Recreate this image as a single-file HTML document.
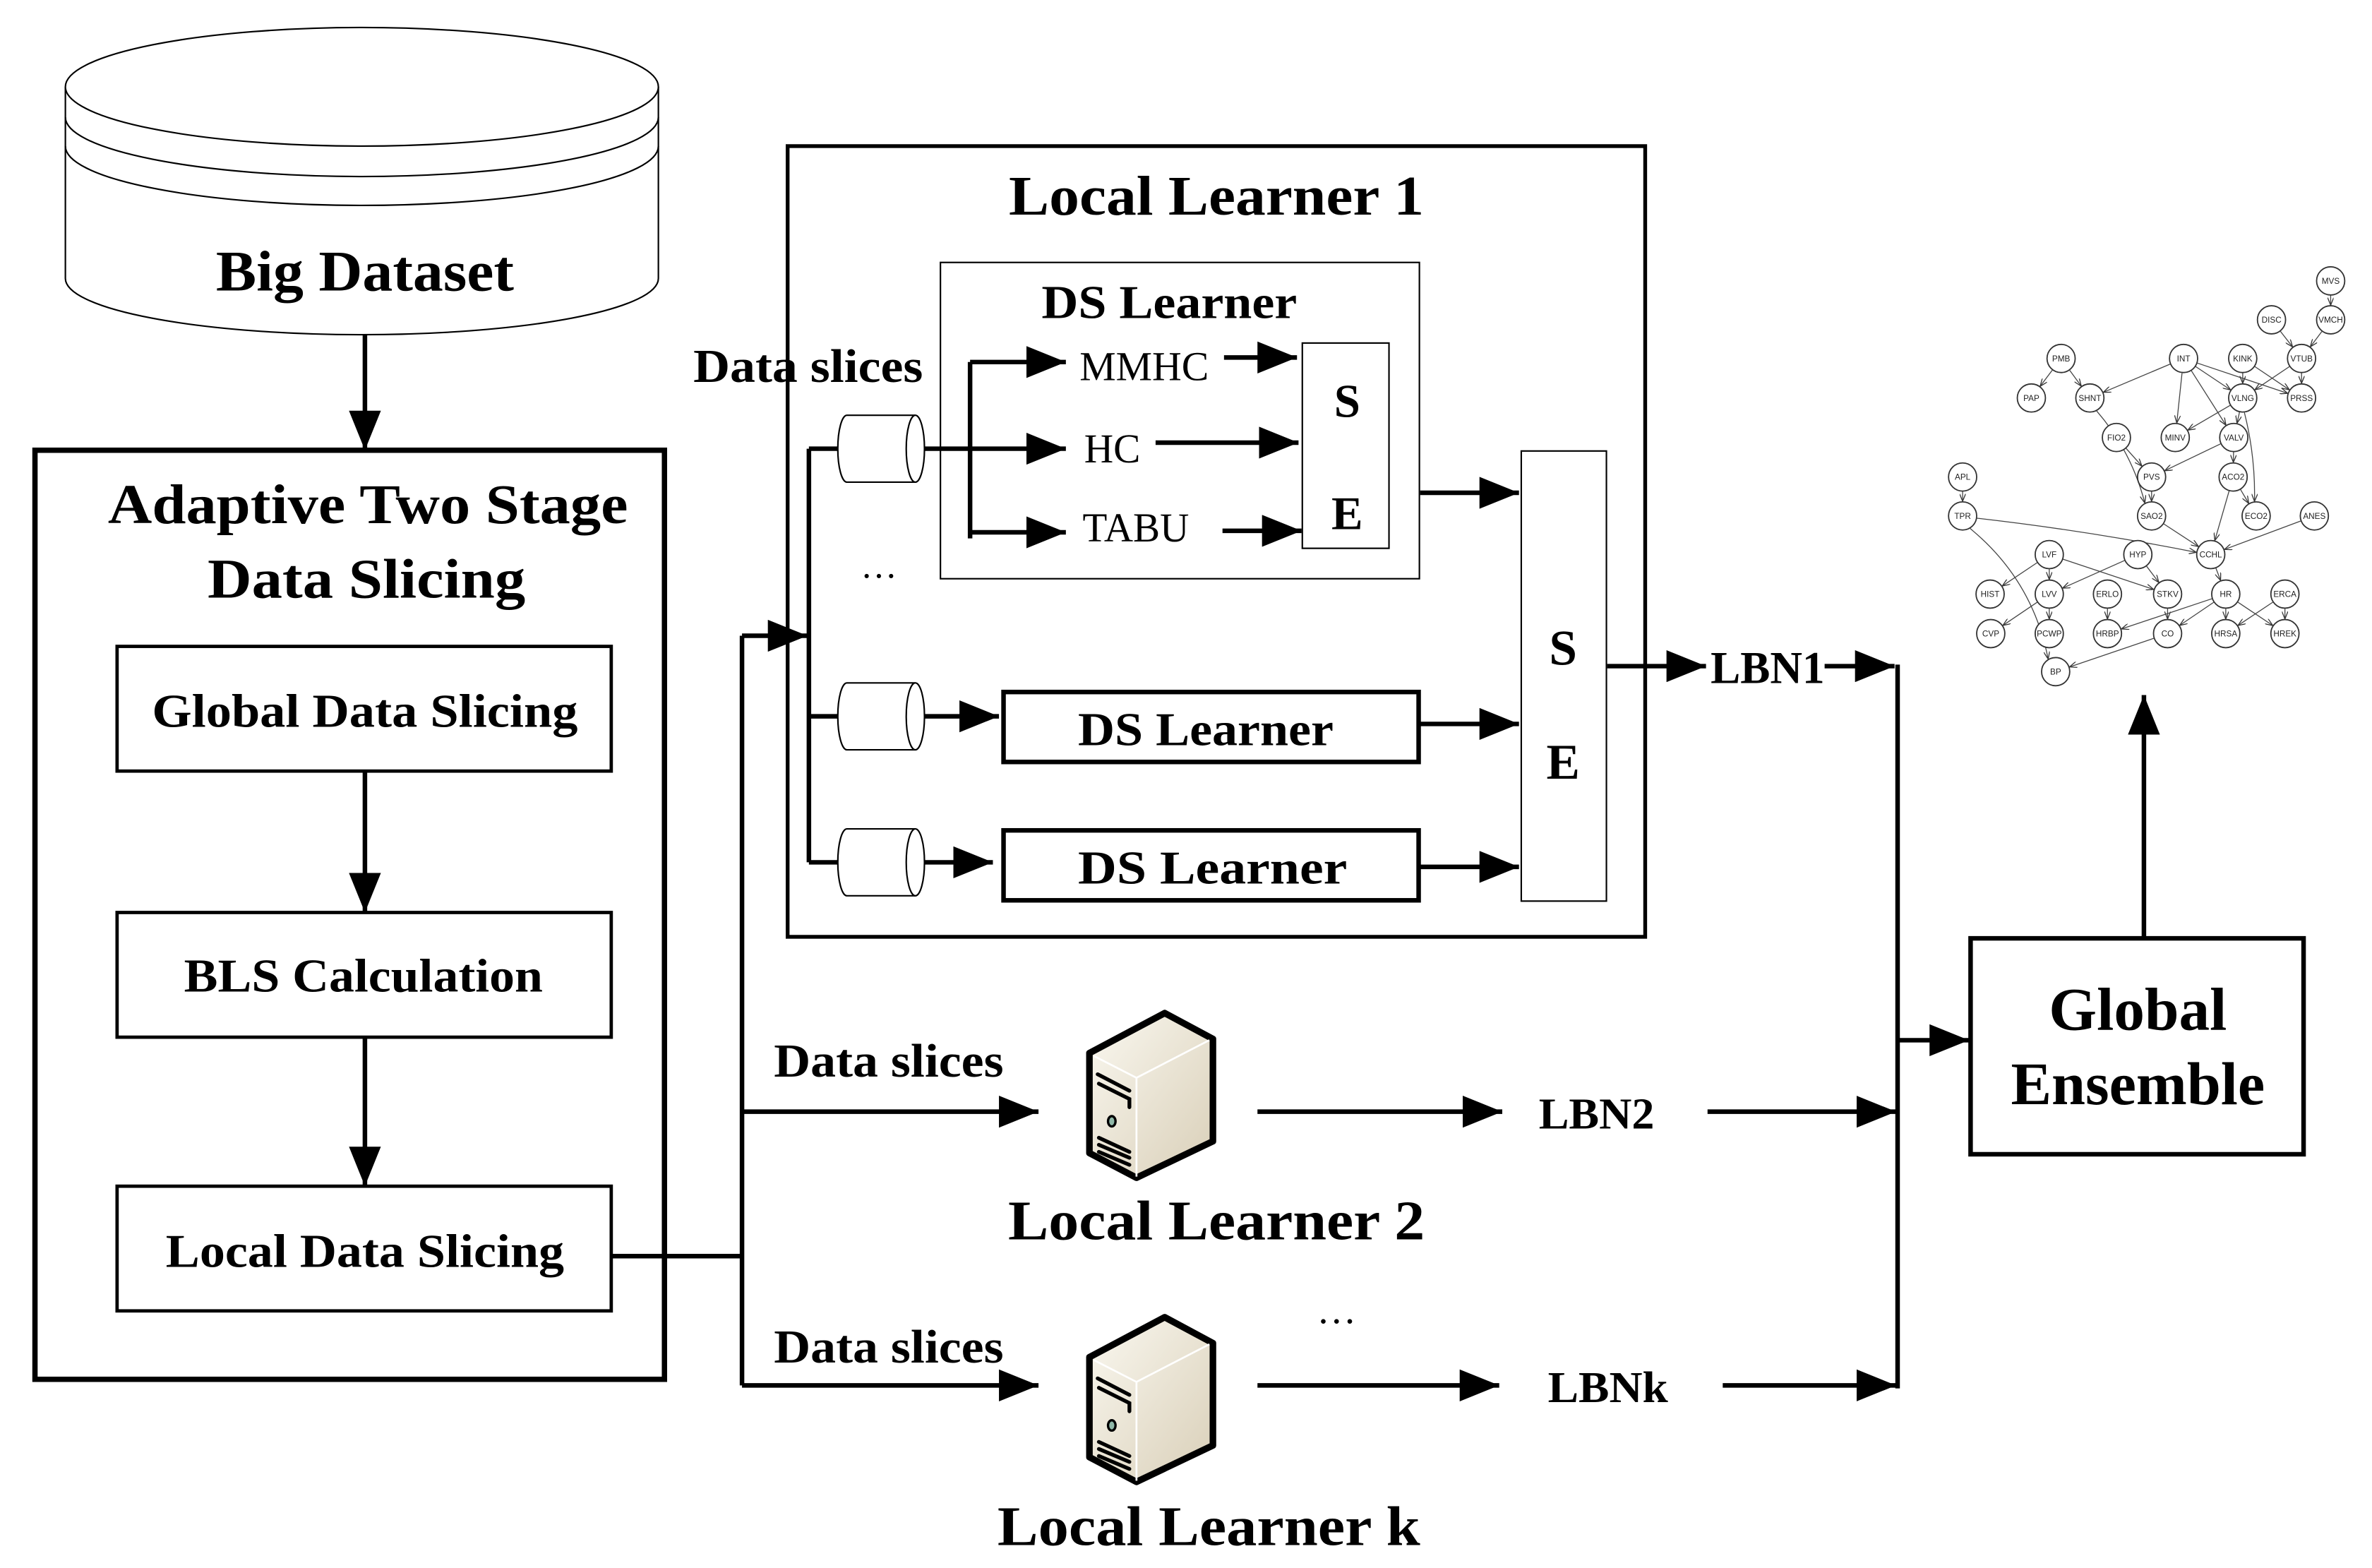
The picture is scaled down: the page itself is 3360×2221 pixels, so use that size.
<!DOCTYPE html>
<html><head><meta charset="utf-8"><style>
html,body{margin:0;padding:0;background:#fff;}
svg{display:block;}
.t{font-family:"Liberation Serif",serif;font-weight:bold;fill:#000;}
.r{font-family:"Liberation Serif",serif;fill:#000;}
.n text{font-family:"Liberation Sans",sans-serif;font-size:26px;text-anchor:middle;fill:#222;}
.n circle{fill:#fff;stroke:#333;stroke-width:4;}
</style></head><body>
<svg width="3360" height="2221" viewBox="0 0 1560 1031" xmlns="http://www.w3.org/2000/svg">
<defs>
<marker id="a" markerUnits="userSpaceOnUse" markerWidth="26" markerHeight="21" refX="26" refY="10.5" orient="auto"><path d="M0,0 L26,10.5 L0,21 z" fill="#000"/></marker>
<marker id="s" markerUnits="userSpaceOnUse" markerWidth="5" markerHeight="4" refX="5" refY="2" orient="auto"><path d="M0,0 L5,2 L0,4" fill="none" stroke="#333" stroke-width="0.6"/></marker>
</defs>
<rect width="1560" height="1031" fill="#fff"/>

<!-- Big dataset cylinder -->
<g fill="none" stroke="#000" stroke-width="1">
<path d="M43,57 V183 A195,37 0 0 0 433,183 V57"/>
<ellipse cx="238" cy="57" rx="195" ry="39" fill="#fff"/>
<path d="M43,77 A195,39 0 0 0 433,77"/>
<path d="M43,96 A195,39 0 0 0 433,96"/>
</g>
<text class="t" x="240" y="191" font-size="38" text-anchor="middle" textLength="196" lengthAdjust="spacingAndGlyphs">Big Dataset</text>

<!-- Left box -->
<rect x="23" y="296" width="414" height="611" fill="none" stroke="#000" stroke-width="3.5"/>
<text class="t" x="242" y="344" font-size="37" text-anchor="middle" textLength="342" lengthAdjust="spacingAndGlyphs">Adaptive Two Stage</text>
<text class="t" x="241" y="393" font-size="37" text-anchor="middle" textLength="209" lengthAdjust="spacingAndGlyphs">Data Slicing</text>
<g fill="none" stroke="#000" stroke-width="2.2">
<rect x="77" y="425" width="325" height="82"/>
<rect x="77" y="600" width="325" height="82"/>
<rect x="77" y="780" width="325" height="82"/>
</g>
<text class="t" x="240" y="478" font-size="31" text-anchor="middle" textLength="280" lengthAdjust="spacingAndGlyphs">Global Data Slicing</text>
<text class="t" x="239" y="652" font-size="31" text-anchor="middle" textLength="236" lengthAdjust="spacingAndGlyphs">BLS Calculation</text>
<text class="t" x="240" y="833" font-size="31" text-anchor="middle" textLength="262" lengthAdjust="spacingAndGlyphs">Local Data Slicing</text>

<!-- Local learner 1 -->
<rect x="518" y="96" width="564" height="520" fill="none" stroke="#000" stroke-width="2.5"/>
<text class="t" x="800" y="141" font-size="37" text-anchor="middle" textLength="273" lengthAdjust="spacingAndGlyphs">Local Learner 1</text>
<rect x="618.5" y="172.5" width="315" height="208" fill="none" stroke="#000" stroke-width="1"/>
<text class="t" x="769" y="209" font-size="31" text-anchor="middle" textLength="168" lengthAdjust="spacingAndGlyphs">DS Learner</text>
<rect x="856.5" y="225.5" width="57" height="135" fill="none" stroke="#000" stroke-width="1"/>
<text class="t" x="886" y="274" font-size="31" text-anchor="middle">S</text>
<text class="t" x="886" y="348" font-size="31" text-anchor="middle">E</text>
<text class="r" x="710" y="250" font-size="27" textLength="85" lengthAdjust="spacingAndGlyphs">MMHC</text>
<text class="r" x="713" y="304" font-size="27" textLength="37" lengthAdjust="spacingAndGlyphs">HC</text>
<text class="r" x="712" y="356" font-size="27" textLength="70" lengthAdjust="spacingAndGlyphs">TABU</text>
<text class="t" x="456" y="251" font-size="31" textLength="151" lengthAdjust="spacingAndGlyphs">Data slices</text>
<text class="r" x="578" y="380" font-size="24" text-anchor="middle">…</text>

<rect x="1000.5" y="296.5" width="56" height="296" fill="none" stroke="#000" stroke-width="1"/>
<text class="t" x="1028" y="437" font-size="33" text-anchor="middle">S</text>
<text class="t" x="1028" y="512" font-size="33" text-anchor="middle">E</text>

<rect x="660" y="455" width="273" height="46" fill="none" stroke="#000" stroke-width="3"/>
<rect x="660" y="546" width="273" height="46" fill="none" stroke="#000" stroke-width="3"/>
<text class="t" x="709" y="490" font-size="31" textLength="168" lengthAdjust="spacingAndGlyphs">DS Learner</text>
<text class="t" x="709" y="581" font-size="31" textLength="177" lengthAdjust="spacingAndGlyphs">DS  Learner</text>

<!-- small cylinders -->
<g fill="#fff" stroke="#000" stroke-width="1">
<path d="M557,273 H602 M557,317 H602 M557,273 A6,22 0 0 0 557,317"/>
<ellipse cx="602" cy="295" rx="6" ry="22"/>
<path d="M557,449 H602 M557,493 H602 M557,449 A6,22 0 0 0 557,493"/>
<ellipse cx="602" cy="471" rx="6" ry="22"/>
<path d="M557,545 H602 M557,589 H602 M557,545 A6,22 0 0 0 557,589"/>
<ellipse cx="602" cy="567" rx="6" ry="22"/>
</g>

<!-- connectors -->
<g fill="none" stroke="#000" stroke-width="3">
<path d="M240,220 V296" marker-end="url(#a)"/>
<path d="M240,507 V600" marker-end="url(#a)"/>
<path d="M240,682 V780" marker-end="url(#a)"/>
<path d="M402,826 H488 M488,418 V911"/>
<path d="M488,418 H531" marker-end="url(#a)"/>
<path d="M488,731 H683" marker-end="url(#a)"/>
<path d="M488,911 H683" marker-end="url(#a)"/>
<path d="M532,295 V567 M532,295 H551 M532,471 H551 M532,567 H551"/>
<path d="M608,295 H701" marker-end="url(#a)"/>
<path d="M608,471 H657" marker-end="url(#a)"/>
<path d="M608,567 H653" marker-end="url(#a)"/>
<path d="M638,238 V354"/>
<path d="M638,238 H701" marker-end="url(#a)"/>
<path d="M638,350 H701" marker-end="url(#a)"/>
<path d="M805,235 H853" marker-end="url(#a)"/>
<path d="M760,291 H854" marker-end="url(#a)"/>
<path d="M804,349 H856" marker-end="url(#a)"/>
<path d="M934,324 H999" marker-end="url(#a)"/>
<path d="M933,476 H999" marker-end="url(#a)"/>
<path d="M933,570 H999" marker-end="url(#a)"/>
<path d="M1057,438 H1122" marker-end="url(#a)"/>
<path d="M1200,438 H1246" marker-end="url(#a)"/>
<path d="M1248,437 V913"/>
<path d="M1248,684 H1295" marker-end="url(#a)"/>
<path d="M1123,731 H1247" marker-end="url(#a)"/>
<path d="M1133,911 H1247" marker-end="url(#a)"/>
<path d="M827,731 H988" marker-end="url(#a)"/>
<path d="M827,911 H986" marker-end="url(#a)"/>
<path d="M1410,617 V457" marker-end="url(#a)"/>
</g>
<text class="t" x="1125" y="449" font-size="30" textLength="75" lengthAdjust="spacingAndGlyphs">LBN1</text>

<!-- Global Ensemble -->
<rect x="1296" y="617" width="219" height="142" fill="#fff" stroke="#000" stroke-width="3"/>
<text class="t" x="1406" y="677" font-size="40" text-anchor="middle" textLength="117" lengthAdjust="spacingAndGlyphs">Global</text>
<text class="t" x="1406" y="726" font-size="40" text-anchor="middle" textLength="167" lengthAdjust="spacingAndGlyphs">Ensemble</text>

<!-- rows 2 & k -->
<text class="t" x="509" y="708" font-size="31" textLength="151" lengthAdjust="spacingAndGlyphs">Data slices</text>
<text class="t" x="509" y="896" font-size="31" textLength="151" lengthAdjust="spacingAndGlyphs">Data slices</text>
<text class="t" x="663" y="815" font-size="37" textLength="274" lengthAdjust="spacingAndGlyphs">Local Learner 2</text>
<text class="t" x="656" y="1016" font-size="37" textLength="278" lengthAdjust="spacingAndGlyphs">Local Learner k</text>
<text class="t" x="1012" y="742" font-size="29" textLength="76" lengthAdjust="spacingAndGlyphs">LBN2</text>
<text class="t" x="1018" y="922" font-size="29" textLength="79" lengthAdjust="spacingAndGlyphs">LBNk</text>
<text class="r" x="879" y="870" font-size="26" text-anchor="middle">…</text>

<!-- servers -->
<g id="srv">
<g transform="translate(710.3,659.2) scale(0.1547)">
<defs><linearGradient id="g1" x1="0" y1="0" x2="1" y2="1"><stop offset="0" stop-color="#faf8f0"/><stop offset="1" stop-color="#d9cfb8"/></linearGradient></defs>
<path d="M40,215 L360,45 L565,155 L565,590 L240,745 L40,640 Z" fill="url(#g1)" stroke="#000" stroke-width="28" stroke-linejoin="round"/>
<path d="M60,228 L240,320 L550,160" fill="none" stroke="#fff" stroke-width="8"/>
<path d="M240,320 V740" stroke="#fff" stroke-width="8"/>
<g stroke="#000" stroke-width="16" stroke-linecap="round" fill="none">
<path d="M75,305 L210,375"/><path d="M80,345 L210,410 V445"/>
<path d="M80,575 L210,635"/><path d="M80,605 L210,660"/><path d="M80,635 L210,690"/>
</g>
<ellipse cx="135" cy="505" rx="16" ry="22" fill="#8fb8a8" stroke="#000" stroke-width="10"/>
</g>
</g>
<use href="#srv" transform="translate(0,200)"/>

<!-- Bayesian network -->
<g id="edges" fill="none" stroke="#444" stroke-width="0.6"></g>
<g transform="translate(1230.4,162.5) scale(0.2103,0.1925)">
<g class="n" transform="translate(1438,115) scale(1,1.0925)"><circle r="44"/><text y="9">MVS</text></g>
<g class="n" transform="translate(1253,248) scale(1,1.0925)"><circle r="44"/><text y="9">DISC</text></g>
<g class="n" transform="translate(1438,248) scale(1,1.0925)"><circle r="44"/><text y="9">VMCH</text></g>
<g class="n" transform="translate(595,380) scale(1,1.0925)"><circle r="44"/><text y="9">PMB</text></g>
<g class="n" transform="translate(978,380) scale(1,1.0925)"><circle r="44"/><text y="9">INT</text></g>
<g class="n" transform="translate(1163,380) scale(1,1.0925)"><circle r="44"/><text y="9">KINK</text></g>
<g class="n" transform="translate(1347,380) scale(1,1.0925)"><circle r="44"/><text y="9">VTUB</text></g>
<g class="n" transform="translate(502,515) scale(1,1.0925)"><circle r="44"/><text y="9">PAP</text></g>
<g class="n" transform="translate(685,515) scale(1,1.0925)"><circle r="44"/><text y="9">SHNT</text></g>
<g class="n" transform="translate(1163,515) scale(1,1.0925)"><circle r="44"/><text y="9">VLNG</text></g>
<g class="n" transform="translate(1347,515) scale(1,1.0925)"><circle r="44"/><text y="9">PRSS</text></g>
<g class="n" transform="translate(768,650) scale(1,1.0925)"><circle r="44"/><text y="9">FIO2</text></g>
<g class="n" transform="translate(952,650) scale(1,1.0925)"><circle r="44"/><text y="9">MINV</text></g>
<g class="n" transform="translate(1135,650) scale(1,1.0925)"><circle r="44"/><text y="9">VALV</text></g>
<g class="n" transform="translate(287,785) scale(1,1.0925)"><circle r="44"/><text y="9">APL</text></g>
<g class="n" transform="translate(878,785) scale(1,1.0925)"><circle r="44"/><text y="9">PVS</text></g>
<g class="n" transform="translate(1133,785) scale(1,1.0925)"><circle r="44"/><text y="9">ACO2</text></g>
<g class="n" transform="translate(287,918) scale(1,1.0925)"><circle r="44"/><text y="9">TPR</text></g>
<g class="n" transform="translate(878,918) scale(1,1.0925)"><circle r="44"/><text y="9">SAO2</text></g>
<g class="n" transform="translate(1205,918) scale(1,1.0925)"><circle r="44"/><text y="9">ECO2</text></g>
<g class="n" transform="translate(1387,918) scale(1,1.0925)"><circle r="44"/><text y="9">ANES</text></g>
<g class="n" transform="translate(558,1050) scale(1,1.0925)"><circle r="44"/><text y="9">LVF</text></g>
<g class="n" transform="translate(835,1050) scale(1,1.0925)"><circle r="44"/><text y="9">HYP</text></g>
<g class="n" transform="translate(1063,1050) scale(1,1.0925)"><circle r="44"/><text y="9">CCHL</text></g>
<g class="n" transform="translate(373,1185) scale(1,1.0925)"><circle r="44"/><text y="9">HIST</text></g>
<g class="n" transform="translate(558,1185) scale(1,1.0925)"><circle r="44"/><text y="9">LVV</text></g>
<g class="n" transform="translate(740,1185) scale(1,1.0925)"><circle r="44"/><text y="9">ERLO</text></g>
<g class="n" transform="translate(928,1185) scale(1,1.0925)"><circle r="44"/><text y="9">STKV</text></g>
<g class="n" transform="translate(1110,1185) scale(1,1.0925)"><circle r="44"/><text y="9">HR</text></g>
<g class="n" transform="translate(1295,1185) scale(1,1.0925)"><circle r="44"/><text y="9">ERCA</text></g>
<g class="n" transform="translate(375,1320) scale(1,1.0925)"><circle r="44"/><text y="9">CVP</text></g>
<g class="n" transform="translate(558,1320) scale(1,1.0925)"><circle r="44"/><text y="9">PCWP</text></g>
<g class="n" transform="translate(740,1320) scale(1,1.0925)"><circle r="44"/><text y="9">HRBP</text></g>
<g class="n" transform="translate(928,1320) scale(1,1.0925)"><circle r="44"/><text y="9">CO</text></g>
<g class="n" transform="translate(1110,1320) scale(1,1.0925)"><circle r="44"/><text y="9">HRSA</text></g>
<g class="n" transform="translate(1295,1320) scale(1,1.0925)"><circle r="44"/><text y="9">HREK</text></g>
<g class="n" transform="translate(578,1450) scale(1,1.0925)"><circle r="44"/><text y="9">BP</text></g>
</g>
</svg>
<script>
(function(){
var P={MVS:[1438,115],DISC:[1253,248],VMCH:[1438,248],PMB:[595,380],INT:[978,380],KINK:[1163,380],VTUB:[1347,380],PAP:[502,515],SHNT:[685,515],VLNG:[1163,515],PRSS:[1347,515],FIO2:[768,650],MINV:[952,650],VALV:[1135,650],APL:[287,785],PVS:[878,785],ACO2:[1133,785],TPR:[287,918],SAO2:[878,918],ECO2:[1205,918],ANES:[1387,918],LVF:[558,1050],HYP:[835,1050],CCHL:[1063,1050],HIST:[373,1185],LVV:[558,1185],ERLO:[740,1185],STKV:[928,1185],HR:[1110,1185],ERCA:[1295,1185],CVP:[375,1320],PCWP:[558,1320],HRBP:[740,1320],CO:[928,1320],HRSA:[1110,1320],HREK:[1295,1320],BP:[578,1450]};
function v(n){var p=P[n];return [1230.4+p[0]*0.2103,162.5+p[1]*0.1925];}
var E=[["MVS","VMCH"],["DISC","VTUB"],["VMCH","VTUB"],["PMB","PAP"],["PMB","SHNT"],["INT","SHNT"],["INT","MINV"],["INT","VALV"],["INT","VLNG"],["INT","PRSS"],["KINK","VLNG"],["KINK","PRSS"],["VTUB","VLNG"],["VTUB","PRSS"],["VLNG","MINV"],["VLNG","VALV"],["VLNG","ECO2",-4],["SHNT","SAO2",-8],["FIO2","PVS"],["VALV","PVS"],["VALV","ACO2"],["PVS","SAO2"],["ACO2","ECO2"],["ACO2","CCHL"],["APL","TPR"],["TPR","CCHL",-3],["TPR","BP",-18],["SAO2","CCHL"],["ANES","CCHL"],["CCHL","HR"],["LVF","HIST"],["LVF","LVV"],["LVF","STKV"],["HYP","LVV"],["HYP","STKV"],["LVV","CVP"],["LVV","PCWP"],["ERLO","HRBP"],["STKV","CO"],["HR","HRBP"],["HR","CO"],["HR","HRSA"],["HR","HREK"],["ERCA","HRSA"],["ERCA","HREK"],["CO","BP"]];
var g=document.getElementById("edges"),r=9.6,ns="http://www.w3.org/2000/svg";
E.forEach(function(e){var a=v(e[0]),b=v(e[1]),dx=b[0]-a[0],dy=b[1]-a[1],L=Math.hypot(dx,dy),ux=dx/L,uy=dy/L;
var x1=a[0]+ux*r,y1=a[1]+uy*r,x2=b[0]-ux*r,y2=b[1]-uy*r,o=e[2]||0;
var p=document.createElementNS(ns,"path");
if(o){var mx=(x1+x2)/2-uy*o,my=(y1+y2)/2+ux*o;p.setAttribute("d","M"+x1+","+y1+" Q"+mx+","+my+" "+x2+","+y2);}
else p.setAttribute("d","M"+x1+","+y1+" L"+x2+","+y2);
p.setAttribute("marker-end","url(#s)");g.appendChild(p);});
})();
</script>
</body></html>
